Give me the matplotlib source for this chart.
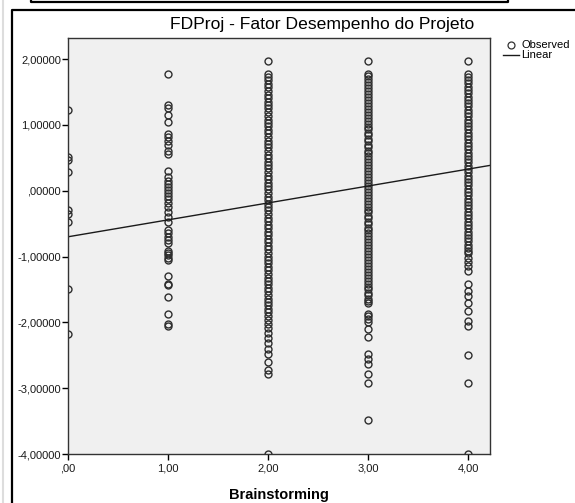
import matplotlib
matplotlib.use("Agg")
import matplotlib.pyplot as plt
from matplotlib.lines import Line2D
import numpy as np

plt.rcParams['font.family'] = ['Liberation Sans', 'DejaVu Sans']

W, H = 575, 503

x_levels = [0, 1, 2, 3, 4]
y_at_0 = [1.22, 0.51, 0.47, 0.28, -0.30, -0.36, -0.48, -1.49, -2.18]
y_at_1 = [1.77, 1.30, 1.25, 1.15, 1.04, 0.86, 0.81, 0.76, 0.69, 0.61, 0.56,
          0.30, 0.21, 0.14, 0.10, 0.05, 0.01, -0.04, -0.08, -0.13, -0.18,
          -0.25, -0.33, -0.40, -0.48, -0.60, -0.65, -0.70, -0.75, -0.79,
          -0.91, -0.95, -0.98, -1.02, -1.06, -1.29, -1.41, -1.44, -1.62,
          -1.87, -2.02, -2.05]
y_at_2 = [1.97, 1.78, 1.73, 1.68, 1.62, 1.57, 1.52, 1.46, 1.41, 1.35, 1.30,
          1.25, 1.19, 1.14, 1.08, 1.03, 0.98, 0.92, 0.87, 0.82, 0.76, 0.71,
          0.66, 0.60, 0.55, 0.50, 0.44, 0.39, 0.34, 0.28, 0.23, 0.18, 0.12,
          0.07, 0.02, -0.04, -0.09, -0.14, -0.20, -0.25, -0.30, -0.36, -0.41,
          -0.46, -0.52, -0.57, -0.62, -0.68, -0.73, -0.78, -0.84, -0.89,
          -0.94, -1.00, -1.05, -1.10, -1.16, -1.21, -1.26, -1.32, -1.37,
          -1.42, -1.48, -1.53, -1.58, -1.64, -1.69, -1.74, -1.80, -1.85,
          -1.90, -1.96, -2.02, -2.08, -2.16, -2.24, -2.32, -2.40, -2.48,
          -2.60, -2.72, -2.78, -4.00]
y_at_3 = [1.97, 1.78, 1.74, 1.69, 1.65, 1.60, 1.56, 1.51, 1.47, 1.42, 1.38,
          1.33, 1.29, 1.24, 1.20, 1.15, 1.11, 1.06, 1.02, 0.97, 0.93, 0.88,
          0.84, 0.79, 0.75, 0.70, 0.66, 0.61, 0.57, 0.52, 0.48, 0.43, 0.39,
          0.34, 0.30, 0.25, 0.21, 0.16, 0.12, 0.07, 0.03, -0.02, -0.06,
          -0.11, -0.15, -0.20, -0.24, -0.29, -0.33, -0.38, -0.42, -0.47,
          -0.51, -0.56, -0.60, -0.65, -0.69, -0.74, -0.78, -0.83, -0.87,
          -0.92, -0.96, -1.01, -1.05, -1.10, -1.14, -1.19, -1.23, -1.28,
          -1.32, -1.37, -1.41, -1.46, -1.50, -1.55, -1.59, -1.64, -1.68,
          -1.71, -1.87, -1.91, -1.95, -2.00, -2.10, -2.23, -2.48, -2.55,
          -2.63, -2.78, -2.92, -3.48]
y_at_4 = [1.97, 1.78, 1.73, 1.68, 1.63, 1.58, 1.53, 1.48, 1.43, 1.38, 1.33,
          1.28, 1.23, 1.18, 1.13, 1.08, 1.03, 0.98, 0.93, 0.88, 0.83, 0.78,
          0.73, 0.68, 0.63, 0.58, 0.53, 0.48, 0.43, 0.38, 0.33, 0.28, 0.23,
          0.18, 0.13, 0.08, 0.03, -0.02, -0.07, -0.12, -0.17, -0.22, -0.27,
          -0.32, -0.37, -0.42, -0.47, -0.52, -0.57, -0.62, -0.67, -0.72,
          -0.77, -0.82, -0.87, -0.92, -0.95, -1.02, -1.08, -1.15, -1.22,
          -1.42, -1.52, -1.60, -1.70, -1.82, -1.98, -2.05, -2.50, -2.92,
          -4.00]
columns = [y_at_0, y_at_1, y_at_2, y_at_3, y_at_4]

# linear fit
fit_intercept = -0.70
fit_slope = 0.257

x_ticks = [0, 1, 2, 3, 4]
x_ticklabels = [',00', '1,00', '2,00', '3,00', '4,00']
y_ticks = [2, 1, 0, -1, -2, -3, -4]
y_ticklabels = ['2,00000', '1,00000', ',00000', '-1,00000', '-2,00000',
                '-3,00000', '-4,00000']


def fx(px):
    return px / W


def fy(py):
    return 1 - py / H


fig = plt.figure(figsize=(W / 100, H / 100), dpi=100)
fig.patch.set_facecolor('white')

ax = fig.add_axes([fx(68), fy(454), fx(490) - fx(68), fy(38) - fy(454)])
ax.set_facecolor('#f0f0f0')

for xv, ys in zip(x_levels, columns):
    ax.plot([xv] * len(ys), ys, linestyle='none', marker='o', markersize=5.0,
            markerfacecolor='none', markeredgecolor='#2e2e2e',
            markeredgewidth=1.0)

xl = np.array([0, 4.22])
ax.plot(xl, fit_intercept + fit_slope * xl, color='#1a1a1a', lw=1.0)

ax.set_xlim(0, 4.22)
ax.set_ylim(-4.0, 2.32)
ax.set_xticks(x_ticks)
ax.set_xticklabels(x_ticklabels)
ax.set_yticks(y_ticks)
ax.set_yticklabels(y_ticklabels)
ax.tick_params(direction='out', length=4, width=1, color='black',
               labelsize=8, labelcolor='#1a1a1a', pad=1)
ax.tick_params(axis='x', pad=3)
for s in ax.spines.values():
    s.set_color('#333333')
    s.set_linewidth(1.0)

ax.set_xlabel('Brainstorming', fontsize=10.5, fontweight='bold', labelpad=10)

fig.text(fx(322), fy(25), 'FDProj - Fator Desempenho do Projeto',
         ha='center', va='center', fontsize=12.6, color='black')

# legend (drawn by hand, as in the original)
fig.add_artist(Line2D([fx(511)], [fy(45)], marker='o', markersize=5.0,
                      markerfacecolor='none', markeredgecolor='#333333',
                      markeredgewidth=0.9, transform=fig.transFigure))
fig.text(fx(521), fy(45), 'Observed', ha='left', va='center', fontsize=8)
fig.add_artist(Line2D([fx(503), fx(519)], [fy(55), fy(55)], color='#1a1a1a',
                      lw=1.0, transform=fig.transFigure))
fig.text(fx(521), fy(55), 'Linear', ha='left', va='center', fontsize=8)

# outer frames
fig.add_artist(Line2D([fx(12), fx(12), fx(580)], [fy(510), fy(10), fy(10)],
                      color='black', lw=1.6, transform=fig.transFigure))
fig.add_artist(Line2D([fx(31), fx(31), fx(508), fx(508)],
                      [fy(-2), fy(2), fy(2), fy(-2)],
                      color='black', lw=1.6, transform=fig.transFigure))
fig.add_artist(Line2D([fx(3), fx(3)], [fy(0), fy(503)], color='#dddddd',
                      lw=1.5, transform=fig.transFigure))

fig.savefig('out.png', dpi=100)
